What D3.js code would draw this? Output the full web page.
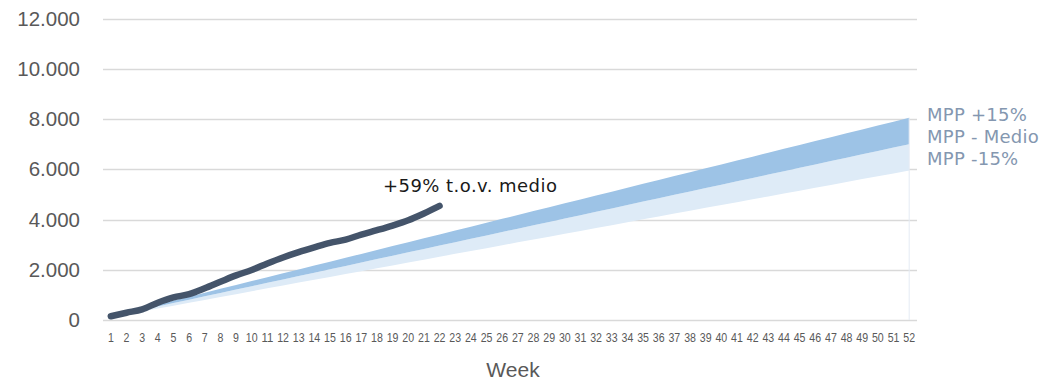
<!DOCTYPE html>
<html>
<head>
<meta charset="utf-8">
<script src="https://cdn.jsdelivr.net/npm/d3@7"></script>
<style>
  html, body { margin: 0; padding: 0; background: #ffffff; }
  svg { display: block; }
</style>
</head>
<body>
<svg id="chart" width="1043" height="380"></svg>
<script>
// ---- Data ----
const weeks = [1,2,3,4,5,6,7,8,9,10,11,12,13,14,15,16,17,18,19,20,21,22,23,24,25,26,
  27,28,29,30,31,32,33,34,35,36,37,38,39,40,41,42,43,44,45,46,47,48,49,50,51,52];

const yTicks = [0, 2000, 4000, 6000, 8000, 10000, 12000];

// Cumulative MPP - medio
const mppMedio = [135,269,404,538,673,808,942,1077,1211,1346,1481,1615,1750,1885,2019,2154,
  2288,2423,2558,2692,2827,2962,3096,3231,3365,3500,3635,3769,3904,4038,4173,4308,4442,4577,
  4712,4846,4981,5115,5250,5385,5519,5654,5788,5923,6058,6192,6327,6462,6596,6731,6865,7000];

// MPP +15%
const mppPlus15 = [155,309,465,619,774,929,1083,1239,1393,1548,1703,1857,2013,2168,2322,2477,
  2631,2786,2942,3096,3251,3406,3560,3716,3870,4025,4180,4334,4490,4644,4799,4954,5108,5264,
  5419,5573,5728,5882,6038,6193,6347,6502,6656,6811,6967,7121,7276,7431,7585,7741,7895,8050];

// MPP -15%
const mppMin15 = [115,229,343,457,572,687,801,915,1029,1144,1259,1373,1488,1602,1716,1831,
  1945,2060,2174,2288,2403,2518,2632,2746,2860,2975,3090,3204,3318,3432,3547,3662,3776,3890,
  4005,4119,4234,4348,4463,4577,4691,4806,4920,5035,5149,5263,5378,5493,5607,5721,5835,5950];

// Actual cumulative (weeks 1-22)
const actual = [150,290,425,690,900,1030,1260,1520,1775,1990,2250,2490,2700,2890,3070,3200,
  3400,3575,3760,3970,4240,4540];

const seriesLabels = ["MPP +15%", "MPP - Medio", "MPP -15%"];
const annotation = "+59% t.o.v. medio";
const xTitle = "Week";

// ---- Layout ----
const svg = d3.select("#chart");
const plotL = 103, plotR = 917, plotT = 18.5, plotB = 320;

const x = d3.scaleBand().domain(weeks).range([plotL, plotR]).padding(0);
const cx = w => x(w) + x.bandwidth() / 2;
const y = d3.scaleLinear().domain([0, 12000]).range([plotB, plotT]);

// Gridlines
svg.append("g").selectAll("line").data(yTicks).join("line")
  .attr("x1", plotL).attr("x2", plotR)
  .attr("y1", d => Math.round(y(d)) + 0.5).attr("y2", d => Math.round(y(d)) + 0.5)
  .attr("stroke", "#d9d9d9").attr("stroke-width", 1.3);

// Y axis labels
const yAxis = d3.axisLeft(y).tickValues(yTicks).tickSize(0).tickPadding(0)
  .tickFormat(d => d3.format(",")(d).replace(/,/g, "."));
const yg = svg.append("g").attr("transform", `translate(80,0)`).call(yAxis);
yg.select(".domain").remove();
yg.selectAll("text")
  .attr("font-family", "'Liberation Sans', Arial, sans-serif")
  .attr("font-size", 20.5).attr("fill", "#595959");

// X axis labels (condensed look)
const xAxis = d3.axisBottom(x).tickSize(0).tickPadding(0);
const xg = svg.append("g").attr("transform", `translate(0,${plotB})`).call(xAxis);
xg.select(".domain").remove();
xg.selectAll("text")
  .attr("y", 21.5).attr("dy", 0)
  .attr("font-family", "'Liberation Sans', Arial, sans-serif")
  .attr("font-size", 13).attr("fill", "#595959")
  .attr("textLength", d => String(d).length * 5.9)
  .attr("lengthAdjust", "spacingAndGlyphs");

// Bands
const idx = weeks.map((w, i) => i);
const lowerArea = d3.area()
  .x(i => cx(weeks[i])).y0(i => y(mppMin15[i])).y1(i => y(mppMedio[i]));
const upperArea = d3.area()
  .x(i => cx(weeks[i])).y0(i => y(mppMedio[i])).y1(i => y(mppPlus15[i]));

svg.append("path").datum(idx).attr("d", lowerArea).attr("fill", "#deebf7");
svg.append("path").datum(idx).attr("d", upperArea).attr("fill", "#9dc3e6");

// Right edge vertical line at last week
const last = weeks.length - 1;
svg.append("line")
  .attr("x1", cx(weeks[last])).attr("x2", cx(weeks[last]))
  .attr("y1", y(0)).attr("y2", y(mppPlus15[last]))
  .attr("stroke", "#e4ebf4").attr("stroke-width", 1);

// Actual line
const line = d3.line()
  .x((d, i) => cx(weeks[i])).y(d => y(d))
  .curve(d3.curveMonotoneX);
svg.append("path").datum(actual).attr("d", line)
  .attr("fill", "none").attr("stroke", "#44546a")
  .attr("stroke-width", 6.5).attr("stroke-linecap", "round").attr("stroke-linejoin", "round");

// Annotation
svg.append("text").attr("x", 383).attr("y", 192)
  .attr("font-family", "'DejaVu Sans', Verdana, sans-serif")
  .attr("font-size", 18).attr("letter-spacing", 0.45).attr("fill", "#1a1a1a")
  .text(annotation);

// Right side labels
svg.append("g").selectAll("text").data(seriesLabels).join("text")
  .attr("x", 927).attr("y", (d, i) => 121 + i * 22)
  .attr("font-family", "'DejaVu Sans', Verdana, sans-serif")
  .attr("font-size", 18).attr("letter-spacing", 0.25).attr("fill", "#8497b0")
  .text(d => d);

// X title
svg.append("text").attr("x", 513).attr("y", 377).attr("text-anchor", "middle")
  .attr("font-family", "'Liberation Sans', Arial, sans-serif")
  .attr("font-size", 21).attr("fill", "#595959")
  .text(xTitle);
</script>
</body>
</html>
